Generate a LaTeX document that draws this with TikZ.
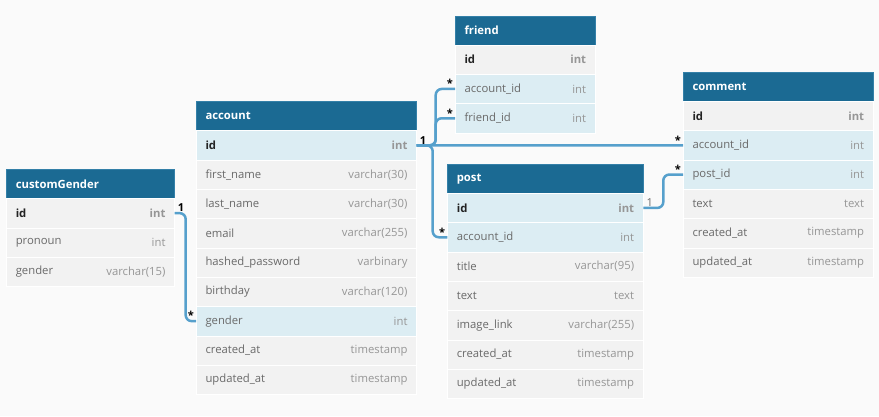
\documentclass[tikz,border=0pt]{standalone}
\usepackage{fontspec}
\setmainfont{Open Sans}
\usepackage{tikz}
\usetikzlibrary{positioning,backgrounds}

\definecolor{hdblue}{RGB}{27,106,147}
\definecolor{hdline}{RGB}{52,128,168}
\definecolor{rowgray}{RGB}{242,242,242}
\definecolor{rowblue}{RGB}{220,237,243}
\definecolor{fieldgray}{RGB}{105,105,105}
\definecolor{typegray}{RGB}{150,150,150}
\definecolor{keyblack}{RGB}{35,35,35}
\definecolor{relblue}{RGB}{86,160,204}
\definecolor{bggray}{RGB}{250,250,250}

\begin{document}
\begin{tikzpicture}[x=1pt,y=1pt,yscale=-1,
  every node/.style={font=\fontsize{11.3}{13}\selectfont},
  head/.style={fill=hdblue, draw=hdline, line width=0.6pt, text=white, anchor=north west,
    minimum height=29pt, inner xsep=9.5pt, inner ysep=0pt, outer sep=0pt, align=left,
    font=\fontsize{11.3}{13}\selectfont\bfseries},
  row/.style={fill=rowgray, draw=white, line width=0.6pt, text=fieldgray, anchor=north west,
    minimum height=29.3pt, inner xsep=9.5pt, inner ysep=0pt, outer sep=0pt, align=left},
  hl/.style={row, fill=rowblue},
  key/.style={text=keyblack, font=\fontsize{11.3}{13}\selectfont\bfseries},
  type/.style={anchor=east, text=typegray, xshift=-9pt, inner sep=0pt},
  keytype/.style={type, font=\fontsize{11.3}{13}\selectfont\bfseries},
  rel/.style={draw=relblue, line width=2.5pt, rounded corners=6pt},
  card/.style={font=\fontsize{11}{13}\selectfont\bfseries, text=black, inner sep=1pt},
  cardthin/.style={card, font=\fontsize{11}{13}\selectfont, text=fieldgray}]
%set diagram size to 879 x 416
\fill[bggray] (0,0) rectangle (879,416);
\useasboundingbox (0,0) rectangle (879,416);

% Table: customGender
\begin{scope}[head/.append style={text width=149.4pt}, row/.append style={text width=149.4pt}]
\node[head] (gender-head) at (6.3,169.5) {customGender};
\node[row, key] (gender-id) at (gender-head.south west) {id};
\node[row] (gender-pronoun) at (gender-id.south west) {pronoun};
\node[row] (gender-gender) at (gender-pronoun.south west) {gender};
\end{scope}
\node[keytype] at (gender-id.east) {int};
\node[type] at (gender-pronoun.east) {int};
\node[type] at (gender-gender.east) {varchar(15)};

% Table: account
\begin{scope}[head/.append style={text width=201.7pt}, row/.append style={text width=201.7pt}]
\node[head] (account-head) at (196,101.7) {account};
\node[hl, key] (account-id) at (account-head.south west) {id};
\node[row] (account-first) at (account-id.south west) {first\_name};
\node[row] (account-last) at (account-first.south west) {last\_name};
\node[row] (account-email) at (account-last.south west) {email};
\node[row] (account-pass) at (account-email.south west) {hashed\_password};
\node[row] (account-birth) at (account-pass.south west) {birthday};
\node[hl] (account-gender) at (account-birth.south west) {gender};
\node[row] (account-created) at (account-gender.south west) {created\_at};
\node[row] (account-updated) at (account-created.south west) {updated\_at};
\end{scope}
\node[keytype] at (account-id.east) {int};
\node[type] at (account-first.east) {varchar(30)};
\node[type] at (account-last.east) {varchar(30)};
\node[type] at (account-email.east) {varchar(255)};
\node[type] at (account-pass.east) {varbinary};
\node[type] at (account-birth.east) {varchar(120)};
\node[type] at (account-gender.east) {int};
\node[type] at (account-created.east) {timestamp};
\node[type] at (account-updated.east) {timestamp};

% Table: friend
\begin{scope}[head/.append style={text width=121.3pt}, row/.append style={text width=121.3pt}]
\node[head] (friend-head) at (455,16) {friend};
\node[row, key] (friend-id) at (friend-head.south west) {id};
\node[hl] (friend-acc) at (friend-id.south west) {account\_id};
\node[hl] (friend-fid) at (friend-acc.south west) {friend\_id};
\end{scope}
\node[keytype] at (friend-id.east) {int};
\node[type] at (friend-acc.east) {int};
\node[type] at (friend-fid.east) {int};

% Table: comment
\begin{scope}[head/.append style={text width=171.3pt}, row/.append style={text width=171.3pt}]
\node[head] (comment-head) at (683,72.3) {comment};
\node[row, key] (comment-id) at (comment-head.south west) {id};
\node[hl] (comment-acc) at (comment-id.south west) {account\_id};
\node[hl] (comment-post) at (comment-acc.south west) {post\_id};
\node[row] (comment-text) at (comment-post.south west) {text};
\node[row] (comment-created) at (comment-text.south west) {created\_at};
\node[row] (comment-updated) at (comment-created.south west) {updated\_at};
\end{scope}
\node[keytype] at (comment-id.east) {int};
\node[type] at (comment-acc.east) {int};
\node[type] at (comment-post.east) {int};
\node[type] at (comment-text.east) {text};
\node[type] at (comment-created.east) {timestamp};
\node[type] at (comment-updated.east) {timestamp};

% Table: post
\begin{scope}[head/.append style={text width=177pt}, row/.append style={text width=177pt}]
\node[head] (post-head) at (447.3,164.3) {post};
\node[hl, key] (post-id) at (post-head.south west) {id};
\node[hl] (post-acc) at (post-id.south west) {account\_id};
\node[row] (post-title) at (post-acc.south west) {title};
\node[row] (post-text) at (post-title.south west) {text};
\node[row] (post-image) at (post-text.south west) {image\_link};
\node[row] (post-created) at (post-image.south west) {created\_at};
\node[row] (post-updated) at (post-created.south west) {updated\_at};
\end{scope}
\node[keytype] at (post-id.east) {int};
\node[type] at (post-acc.east) {int};
\node[type] at (post-title.east) {varchar(95)};
\node[type] at (post-text.east) {text};
\node[type] at (post-image.east) {varchar(255)};
\node[type] at (post-created.east) {timestamp};
\node[type] at (post-updated.east) {timestamp};

% Relations
\draw[rel] (account-id.east) -- ++(19,0) |- (friend-acc.west);
\draw[rel] (account-id.east) -- ++(19,0) |- (friend-fid.west);
\draw[rel] (account-id.east) -- (comment-acc.west);
\draw[rel] (account-id.east) -- ++(16,0) |- (post-acc.west);
\draw[rel] (post-id.east) -- ++(20,0) |- (comment-post.west);
\draw[rel] (gender-id.east) -- ++(11,0) |- (account-gender.west);

% Cardinalities
\node[card, above right=0pt and 2pt of account-id.east] (card-account) {1};
\node[card, above left=0pt and 1pt of friend-acc.west] (card-friend-acc) {*};
\node[card, above left=0pt and 1pt of friend-fid.west] (card-friend-fid) {*};
\node[card, above left=0pt and 1pt of comment-acc.west] (card-comment-acc) {*};
\node[card, above left=0pt and 1pt of post-acc.west] (card-post-acc) {*};
\node[cardthin, above right=0pt and 2pt of post-id.east] (card-post-id) {1};
\node[card, above left=0pt and 1pt of comment-post.west] (card-comment-post) {*};
\node[card, above right=0pt and 2pt of gender-id.east] (card-gender-id) {1};
\node[card, above left=0pt and 1pt of account-gender.west] (card-account-gender) {*};

\end{tikzpicture}
\end{document}
